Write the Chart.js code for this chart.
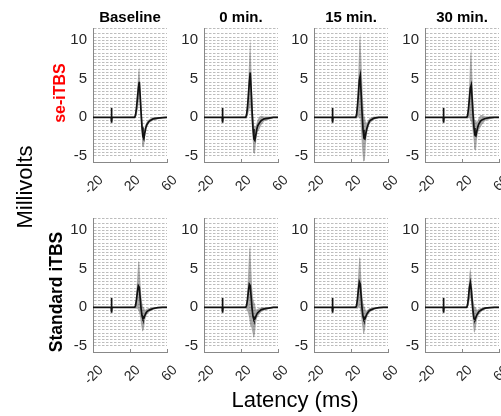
<!DOCTYPE html>
<html>
<head>
<meta charset="utf-8">
<script src="https://cdn.jsdelivr.net/npm/chart.js@4"></script>
<style>
  html, body { margin: 0; padding: 0; background: #fff; overflow: hidden; }
  body { width: 501px; height: 416px; position: relative; font-family: "Liberation Sans", Arial, sans-serif; }
  canvas { position: absolute; }
  .lbl { position: absolute; white-space: nowrap; transform: translate(-50%, -50%); line-height: 1; }
  .rot { transform: translate(-50%, -50%) rotate(-90deg); }
</style>
</head>
<body>
<script>
// Sample latencies (ms) shared by every panel; the 0 ms points carry the stimulus artifact
const latencyMs = [-20, -0.4, 0, 0.2, 0.6, 25, 26, 27, 28, 29, 30, 31, 32, 33, 34, 35, 36, 37, 38, 40, 42, 45, 50, 55, 60];

const conditions = ['Baseline', '0 min.', '15 min.', '30 min.'];
const protocols = ['se-iTBS', 'Standard iTBS'];
const latencyTicks = [-20, 20, 60];
const mvTicks = [-5, 0, 5, 10];

// Mean MEP and SD (mV), se-iTBS
const seBaselineMean = [0, 0, 1.2, -0.7, 0, 0, 0.3, 1.2, 2.4, 3.7, 4.6, 2.8, 0.6, -1.3, -2.5, -2.8, -2.0, -1.4, -1.0, -0.6, -0.4, -0.2, -0.1, -0.05, 0];
const seBaselineSd   = [0, 0, 0, 0, 0, 0.1, 0.4, 1.0, 1.6, 2.2, 1.9, 1.8, 1.6, 1.4, 1.3, 1.1, 0.7, 0.5, 0.4, 0.3, 0.25, 0.2, 0.15, 0.1, 0.1];
const se0Mean  = [0, 0, 1.2, -0.7, 0, 0, 0.3, 1.3, 2.8, 4.5, 5.8, 3.5, 0.8, -1.5, -2.8, -3.0, -2.3, -1.6, -1.1, -0.7, -0.4, -0.2, -0.1, 0, 0];
const se0Sd    = [0, 0, 0, 0, 0, 0.1, 0.5, 1.2, 2.2, 3.5, 4.4, 3.5, 2.5, 2.0, 1.8, 1.8, 1.2, 0.9, 0.8, 0.8, 0.6, 0.3, 0.2, 0.1, 0.1];
const se15Mean = [0, 0, 1.2, -0.7, 0, 0, 0.3, 1.5, 3.0, 4.8, 5.4, 3.0, 0.5, -1.6, -2.7, -2.8, -2.1, -1.5, -1.1, -0.5, -0.3, -0.1, 0, 0, 0];
const se15Sd   = [0, 0, 0, 0, 0, 0.1, 0.5, 1.5, 3.0, 5.0, 5.5, 5.0, 4.5, 3.8, 3.0, 2.8, 1.5, 0.8, 0.6, 0.4, 0.3, 0.2, 0.1, 0.1, 0.1];
const se30Mean = [0, 0, 1.2, -0.7, 0, 0, 0.2, 1.1, 2.4, 3.8, 4.2, 2.3, 0.2, -1.4, -2.3, -2.4, -1.8, -1.3, -0.9, -0.5, -0.3, -0.15, -0.05, 0, 0];
const se30Sd   = [0, 0, 0, 0, 0, 0.1, 0.4, 1.2, 2.5, 4.2, 4.8, 3.5, 2.5, 2.0, 1.8, 2.0, 1.2, 0.9, 0.8, 0.8, 0.6, 0.3, 0.2, 0.1, 0.1];

// Mean MEP and SD (mV), standard iTBS
const stdBaselineMean = [0, 0, 1.2, -0.7, 0, 0, 0.2, 1.0, 2.0, 2.8, 2.6, 1.2, -0.2, -1.1, -1.5, -1.4, -1.1, -0.8, -0.6, -0.4, -0.3, -0.15, -0.05, 0, 0];
const stdBaselineSd   = [0, 0, 0, 0, 0, 0.1, 0.4, 1.2, 2.2, 3.2, 3.3, 2.5, 2.0, 1.8, 1.6, 1.4, 0.8, 0.5, 0.4, 0.3, 0.2, 0.15, 0.1, 0.1, 0.1];
const std0Mean  = [0, 0, 1.2, -0.7, 0, 0, 0.2, 1.0, 2.1, 3.0, 2.8, 1.3, -0.2, -1.2, -1.6, -1.5, -1.2, -0.9, -0.7, -0.5, -0.3, -0.2, -0.1, 0, 0];
const std0Sd    = [0, 0, 0, 0, 0, 0.1, 0.5, 1.5, 3.0, 4.5, 5.2, 3.8, 2.8, 2.4, 2.3, 2.0, 1.0, 0.6, 0.5, 0.4, 0.3, 0.2, 0.1, 0.1, 0.1];
const std15Mean = [0, 0, 1.2, -0.7, 0, 0, 0.2, 1.1, 2.3, 3.3, 3.0, 1.4, -0.2, -1.2, -1.6, -1.5, -1.2, -0.9, -0.7, -0.4, -0.3, -0.15, -0.05, 0, 0];
const std15Sd   = [0, 0, 0, 0, 0, 0.1, 0.4, 1.3, 2.4, 3.2, 3.4, 2.6, 2.1, 1.9, 1.8, 1.5, 0.8, 0.5, 0.4, 0.3, 0.2, 0.15, 0.1, 0.1, 0.1];
const std30Mean = [0, 0, 1.2, -0.7, 0, 0, 0.3, 1.3, 2.6, 3.2, 2.3, 0.8, -0.6, -1.5, -1.6, -1.3, -1.0, -0.8, -0.6, -0.4, -0.25, -0.1, -0.05, 0, 0];
const std30Sd   = [0, 0, 0, 0, 0, 0.1, 0.4, 1.1, 1.8, 1.9, 1.9, 1.7, 1.7, 1.8, 1.6, 1.3, 0.7, 0.5, 0.4, 0.3, 0.2, 0.15, 0.1, 0.1, 0.1];

const panels = [
  { row: 0, col: 0, mean: seBaselineMean, sd: seBaselineSd },
  { row: 0, col: 1, mean: se0Mean, sd: se0Sd },
  { row: 0, col: 2, mean: se15Mean, sd: se15Sd },
  { row: 0, col: 3, mean: se30Mean, sd: se30Sd },
  { row: 1, col: 0, mean: stdBaselineMean, sd: stdBaselineSd },
  { row: 1, col: 1, mean: std0Mean, sd: std0Sd },
  { row: 1, col: 2, mean: std15Mean, sd: std15Sd },
  { row: 1, col: 3, mean: std30Mean, sd: std30Sd }
];

// layout of the panel grid (px)
const plotLeft = [93, 204, 314, 425];
const plotTop = [25, 215];
const PLOT_W = 74, PLOT_H = 137;
const AXIS_W = 40, AXIS_H = 40, PAD_TOP = 12, PAD_RIGHT = 16;
const Y_MIN = -5.8, Y_MAX = 11.6;
const FONT = '"Liberation Sans", Arial, sans-serif';

function addLabel(text, x, y, css, rotated) {
  const d = document.createElement('div');
  d.className = rotated ? 'lbl rot' : 'lbl';
  d.textContent = text;
  d.style.left = x + 'px';
  d.style.top = y + 'px';
  d.style.cssText += css;
  document.body.appendChild(d);
}

function makePanel(p) {
  const canvas = document.createElement('canvas');
  canvas.width = AXIS_W + PLOT_W + PAD_RIGHT;
  canvas.height = PAD_TOP + PLOT_H + AXIS_H;
  canvas.style.left = (plotLeft[p.col] - AXIS_W) + 'px';
  canvas.style.top = (plotTop[p.row] - PAD_TOP) + 'px';
  document.body.appendChild(canvas);

  const pts = arr => latencyMs.map((x, i) => ({ x: x, y: arr[i] }));
  const upper = p.mean.map((m, i) => m + p.sd[i]);
  const lower = p.mean.map((m, i) => m - p.sd[i]);

  new Chart(canvas, {
    type: 'line',
    data: {
      datasets: [
        { data: pts(p.mean), borderColor: '#111', borderWidth: 1.7, pointRadius: 0, fill: false, tension: 0 },
        { data: pts(lower), borderWidth: 0, borderColor: 'transparent', pointRadius: 0, fill: false },
        { data: pts(upper), borderWidth: 0, borderColor: 'transparent', pointRadius: 0, fill: '-1',
          backgroundColor: 'rgba(100,100,100,0.55)' }
      ]
    },
    options: {
      responsive: false,
      animation: false,
      events: [],
      layout: { padding: { top: PAD_TOP, right: PAD_RIGHT, left: 0, bottom: 0 } },
      plugins: { legend: { display: false }, tooltip: { enabled: false } },
      scales: {
        x: {
          type: 'linear',
          min: -20,
          max: 60,
          // fixed axis band; rotated labels may spill into the neighbouring gap
          afterFit: s => { s.height = AXIS_H; s.paddingLeft = 0; s.paddingRight = 0; },
          afterBuildTicks: s => { s.ticks = latencyTicks.map(v => ({ value: v })); },
          // short inward tick marks, no vertical grid lines
          grid: { display: true, drawOnChartArea: false, drawTicks: true, tickLength: -3, color: '#888' },
          border: { display: true, color: '#888', width: 1 },
          ticks: {
            autoSkip: false, minRotation: 45, maxRotation: 45, labelOffset: 8, padding: 13,
            color: '#262626', font: { family: FONT, size: 14 }
          }
        },
        y: {
          min: Y_MIN,
          max: Y_MAX,
          afterFit: s => { s.width = AXIS_W; },
          grid: { color: '#bdbdbd', lineWidth: 1, drawTicks: false },
          border: { display: true, color: '#888', width: 1, dash: [2.5, 1.5] },
          ticks: {
            stepSize: 5 / 12,
            autoSkip: false,
            padding: 6,
            color: '#262626',
            font: { family: FONT, size: 15 },
            callback: v => {
              const major = mvTicks.find(t => Math.abs(v - t) < 1e-6);
              return major === undefined ? '' : String(major);
            }
          }
        }
      }
    }
  });
}

panels.forEach(makePanel);

conditions.forEach((c, i) => {
  addLabel(c, plotLeft[i] + PLOT_W / 2, 16, 'font-weight:bold;font-size:15px;color:#000;');
});
addLabel(protocols[0], 60, 93, 'font-weight:bold;font-size:16px;color:#ff0000;', true);
addLabel(protocols[1], 57, 292, 'font-weight:bold;font-size:17.5px;color:#000;', true);
addLabel('Millivolts', 25, 187, 'font-size:22px;color:#000;', true);
addLabel('Latency (ms)', 295, 400, 'font-size:22px;color:#000;');
</script>
</body>
</html>
